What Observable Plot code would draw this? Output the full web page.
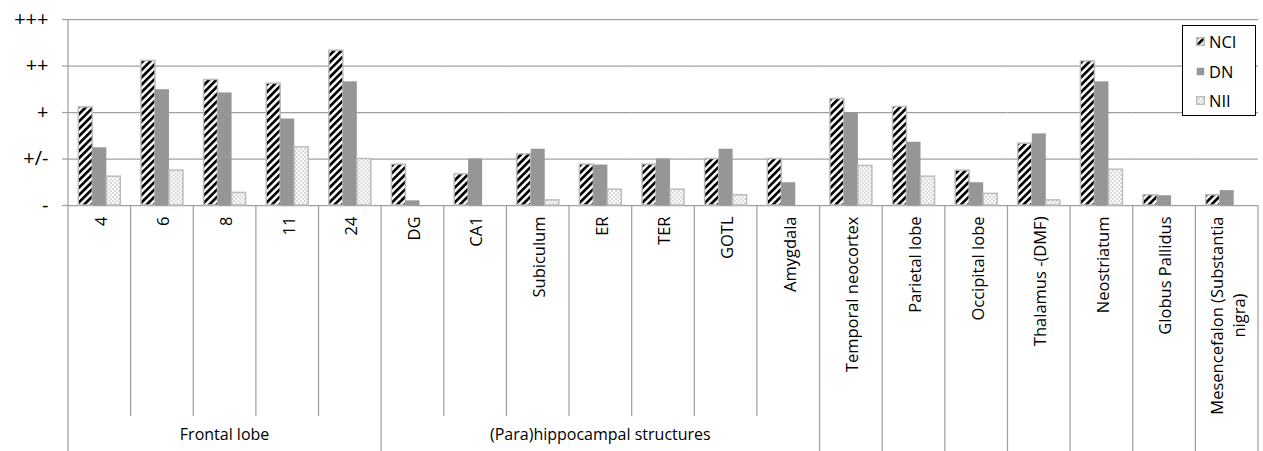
<!DOCTYPE html>
<html>
<head>
<meta charset="utf-8">
<script src="https://cdn.jsdelivr.net/npm/d3@7"></script>
<script src="https://cdn.jsdelivr.net/npm/@observablehq/plot@0.6"></script>
<style>
  body { margin: 0; background: #fff; }
  #wrap { position: relative; width: 1263px; height: 451px; font-family: "Open Sans", sans-serif; }
  #legend { position: absolute; left: 1182px; top: 25px; width: 72px; height: 88px; border: 1.5px solid #000; background: #fff; padding-top: 1px; }
  #legend .item { height: 29.5px; display: flex; align-items: center; padding-left: 13px; font-size: 16.5px; color: #000; }
  #legend svg { margin-right: 4px; }
</style>
</head>
<body>
<div id="wrap"></div>
<script>
// ---- data ----
const categories = ["4", "6", "8", "11", "24", "DG", "CA1", "Subiculum", "ER", "TER", "GOTL", "Amygdala",
  "Temporal neocortex", "Parietal lobe", "Occipital lobe", "Thalamus -(DMF)", "Neostriatum", "Globus Pallidus",
  "Mesencefalon (Substantia nigra)"];
const categoryTickLabels = ["4", "6", "8", "11", "24", "DG", "CA1", "Subiculum", "ER", "TER", "GOTL", "Amygdala",
  "Temporal neocortex", "Parietal lobe", "Occipital lobe", "Thalamus -(DMF)", "Neostriatum", "Globus Pallidus",
  "Mesencefalon (Substantia\nnigra)"];
const categoryGroups = ["Frontal lobe", "Frontal lobe", "Frontal lobe", "Frontal lobe", "Frontal lobe",
  "(Para)hippocampal structures", "(Para)hippocampal structures", "(Para)hippocampal structures",
  "(Para)hippocampal structures", "(Para)hippocampal structures", "(Para)hippocampal structures",
  "(Para)hippocampal structures", "g3", "g4", "g5", "g6", "g7", "g8", "g9"];
const groupLabels = {"Frontal lobe": "Frontal lobe", "(Para)hippocampal structures": "(Para)hippocampal structures"};
const series = ["NCI", "DN", "NII"];
const NCI = [2.11, 3.11, 2.70, 2.62, 3.33, 0.88, 0.67, 1.10, 0.88, 0.88, 1.00, 1.00, 2.29, 2.12, 0.75, 1.33, 3.10, 0.22, 0.22];
const DN  = [1.24, 2.49, 2.42, 1.86, 2.66, 0.10, 1.00, 1.21, 0.87, 1.00, 1.21, 0.49, 2.00, 1.36, 0.49, 1.54, 2.66, 0.21, 0.32];
const NII = [0.62, 0.75, 0.27, 1.25, 1.00, 0.00, 0.00, 0.11, 0.34, 0.34, 0.22, 0.00, 0.85, 0.62, 0.25, 0.11, 0.77, 0.00, 0.00];
const yTickValues = [0, 1, 2, 3, 4];
const yTickLabels = ["-", "+/-", "+", "++", "+++"];

// ---- table ----
const valuesBySeries = {NCI, DN, NII};
const data = [];
categories.forEach((c, i) => series.forEach(s => data.push({category: c, series: s, value: valuesBySeries[s][i]})));

const gray = "#a0a0a0";
const fills = {NCI: "url(#hatchNCI)", DN: "#969696", NII: "url(#dotsNII)"};
const strokes = {NCI: "#bcbcbc", DN: "none", NII: "#bcbcbc"};

const barMarks = series.map(s => Plot.barY(data.filter(d => d.series === s && d.value > 0), {
  fx: "category", x: "series", y: "value",
  fill: fills[s], stroke: strokes[s], strokeWidth: 1.5
}));

const chart = Plot.plot({
  width: 1263, height: 451,
  marginLeft: 68, marginRight: 5, marginTop: 19, marginBottom: 246,
  style: {fontFamily: "'Open Sans', sans-serif", background: "white", color: "black"},
  fx: {domain: categories, padding: 0, round: false, axis: null, label: null},
  x: {domain: series, paddingInner: 0, paddingOuter: 0.736, round: false, axis: null},
  y: {domain: [0, 4], axis: null},
  marks: [
    Plot.gridY(yTickValues, {stroke: gray, strokeOpacity: 1, strokeWidth: 1.25}),
    Plot.axisY({ticks: yTickValues, tickFormat: d => yTickLabels[d], tickSize: 6, tickPadding: 14,
      fontSize: 20, stroke: gray, strokeWidth: 1.25, fill: "black", label: null}),
    ...barMarks,
    Plot.axisFx({anchor: "bottom", ticks: categories, tickSize: 0, tickPadding: 11, tickRotate: -90,
      textAnchor: "end", lineAnchor: "middle", lineHeight: 1.3, fontSize: 16.5, fill: "black",
      tickFormat: d => categoryTickLabels[categories.indexOf(d)], label: null})
  ]
});

const wrap = document.getElementById("wrap");
wrap.appendChild(chart);

// ---- patterns ----
const svg = d3.select(chart);
const defs = svg.insert("defs", ":first-child");
const hatch = defs.append("pattern").attr("id", "hatchNCI").attr("patternUnits", "userSpaceOnUse")
  .attr("width", 5.2).attr("height", 5.2).attr("patternTransform", "rotate(45)");
hatch.append("rect").attr("width", 5.2).attr("height", 5.2).attr("fill", "#fff");
hatch.append("rect").attr("width", 2.7).attr("height", 5.2).attr("fill", "#000");
const dots = defs.append("pattern").attr("id", "dotsNII").attr("patternUnits", "userSpaceOnUse")
  .attr("width", 4).attr("height", 4);
dots.append("rect").attr("width", 4).attr("height", 4).attr("fill", "#fff");
dots.append("rect").attr("x", 0.5).attr("y", 0.5).attr("width", 1.1).attr("height", 1.1).attr("fill", "#808080");
dots.append("rect").attr("x", 2.5).attr("y", 2.5).attr("width", 1.1).attr("height", 1.1).attr("fill", "#808080");

// ---- center wrapped tick labels ----
svg.selectAll('g[aria-label="fx-axis tick label"] text').each(function() {
  const tspans = Array.from(this.querySelectorAll("tspan"));
  if (tspans.length > 1) {
    const L = d3.max(tspans, t => t.getComputedTextLength());
    this.setAttribute("text-anchor", "middle");
    tspans.forEach(t => t.setAttribute("x", -L / 2));
  }
});

// ---- category dividers and group labels (from Plot's fx and y scales) ----
const fx = chart.scale("fx");
const ys = chart.scale("y");
const y0 = ys.apply(0), yTop = ys.apply(4);
const H = 451;
const innerBottom = H - 35;
const g = svg.append("g").attr("stroke", gray).attr("stroke-width", 1.25);
const edges = categories.map(c => fx.apply(c));
edges.push(fx.apply(categories[categories.length - 1]) + fx.bandwidth);
edges.forEach((x, i) => {
  const isGroupEdge = i === 0 || i === categories.length || categoryGroups[i] !== categoryGroups[i - 1];
  g.append("line").attr("x1", x).attr("x2", x)
    .attr("y1", i === 0 ? yTop : y0).attr("y2", isGroupEdge ? H : innerBottom);
});
const groups = d3.groups(categories.map((c, i) => ({c, i, grp: categoryGroups[i]})), d => d.grp);
const gl = svg.append("g").style("font-size", "16px").attr("text-anchor", "middle").attr("fill", "black");
groups.forEach(([grp, items]) => {
  const label = groupLabels[grp];
  if (!label) return;
  const x0 = fx.apply(items[0].c), x1 = fx.apply(items[items.length - 1].c) + fx.bandwidth;
  gl.append("text").attr("x", (x0 + x1) / 2).attr("y", H - 11).text(label);
});

// ---- legend ----
const legend = d3.select(wrap).append("div").attr("id", "legend");
series.forEach(s => {
  const item = legend.append("div").attr("class", "item");
  const sw = item.append("svg").attr("width", 9).attr("height", 9);
  sw.append("rect").attr("x", 0.75).attr("y", 0.75).attr("width", 7.5).attr("height", 7.5)
    .attr("fill", fills[s]).attr("stroke", s === "DN" ? "none" : "#bcbcbc").attr("stroke-width", 1.5);
  item.append("span").text(s);
});
</script>
</body>
</html>
